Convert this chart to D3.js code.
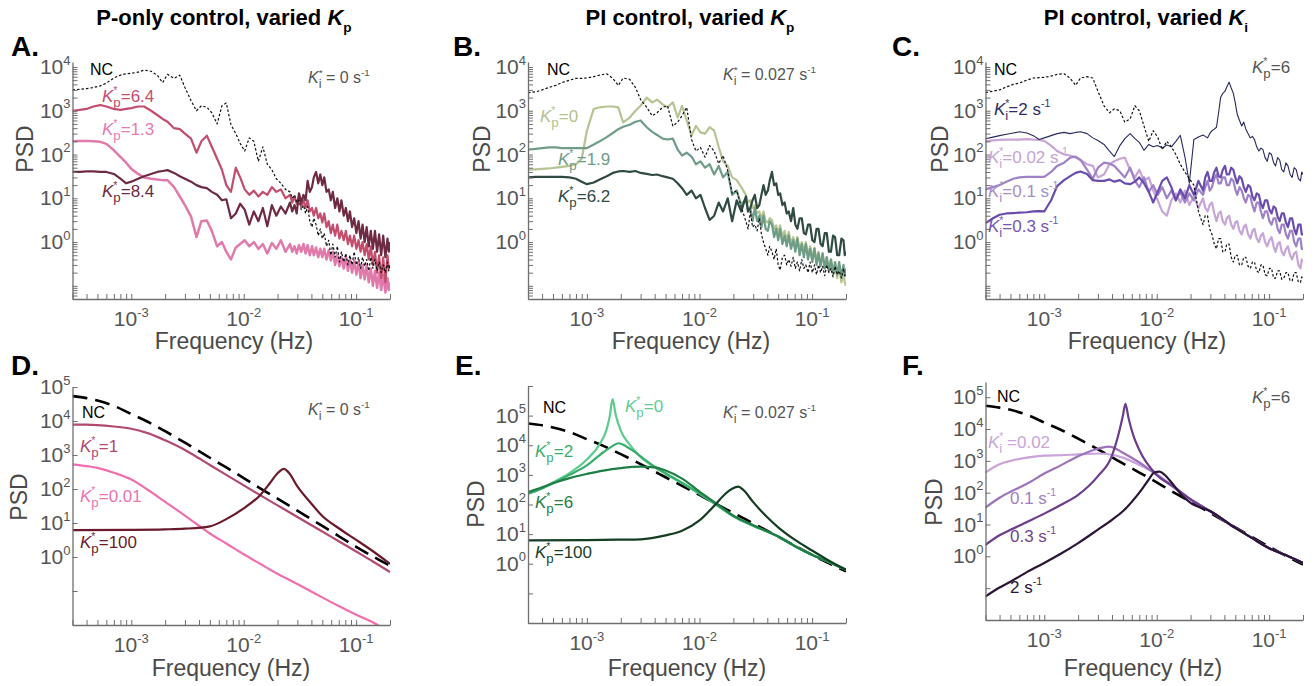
<!DOCTYPE html>
<html lang="en">
<head>
<meta charset="UTF-8" />
<title>PSD under P and PI control</title>
<script src="https://cdnjs.cloudflare.com/ajax/libs/d3/7.8.5/d3.min.js"></script>
<style>
  body { margin: 0; background: #fff; }
  svg { display: block; font-family: "Liberation Sans", Arial, Helvetica, sans-serif; }
</style>
</head>
<body>
<svg id="chart" width="1314" height="686"></svg>
<script>
// ---- data: top row (measured spectra), all on one frequency grid (Hz)
const freqTop = [
  3.0e-4, 3.5e-4, 4e-4, 4.6e-4, 5.3e-4, 6e-4, 7e-4, 8e-4, 9e-4, 1.0e-3,
  1.15e-3, 1.3e-3, 1.5e-3, 1.7e-3, 1.9e-3, 2.1e-3, 2.4e-3, 2.7e-3, 3.0e-3, 3.4e-3,
  3.8e-3, 4.2e-3, 4.7e-3, 5.2e-3, 5.8e-3, 6.4e-3, 7.0e-3, 7.7e-3, 8.5e-3, 9.3e-3,
  0.0102, 0.0112, 0.0123, 0.0135, 0.0148, 0.0162, 0.0178, 0.0195, 0.0214, 0.0235,
  // denser high-frequency part
  0.0258, 0.027, 0.0283, 0.0296, 0.031, 0.0325, 0.034, 0.0355, 0.037, 0.0387,
  0.0405, 0.042, 0.044, 0.046, 0.048, 0.050, 0.052, 0.0545, 0.057, 0.0595,
  0.062, 0.065, 0.068, 0.071, 0.074, 0.0775, 0.081, 0.0845, 0.088, 0.092,
  0.096, 0.1005, 0.105, 0.1095, 0.114, 0.119, 0.124, 0.1295, 0.135, 0.141,
  0.147, 0.1535, 0.16, 0.167, 0.174, 0.182, 0.19, 0.195, 0.2
];

// panel A: P-only control
const aNC = [
  3000, 3100, 3200, 3400, 3700, 4300, 5600, 6500, 7000, 7200,
  7600, 8500, 8000, 6500, 4400, 6800, 5500, 6500, 3400, 1700,
  1000, 1300, 1200, 900, 500, 1300, 1500, 480, 300, 180,
  120, 240, 200, 70, 150, 60, 45, 28, 22, 16,
  14, 10, 12, 8, 9, 5.5, 7, 4.5, 6.5, 3,
  2.2, 3.5, 2.5, 1.4, 2, 1.2, 1.6, 0.8, 1.1, 0.5,
  0.9, 0.45, 0.8, 0.35, 0.6, 0.35, 0.55, 0.3, 0.5, 0.3,
  0.6, 0.3, 0.45, 0.25, 0.45, 0.28, 0.4, 0.22, 0.45, 0.25,
  0.4, 0.22, 0.35, 0.2, 0.3, 0.2, 0.35, 0.22, 0.3
];
const aKp64 = [
  1000, 1050, 1100, 1250, 1350, 1250, 1100, 1050, 1100, 1150,
  1250, 1250, 1000, 800, 650, 560, 400, 380, 300, 230,
  110, 200, 270, 150, 80, 45, 20, 14, 50, 30,
  16, 12, 15, 11, 14, 12, 18, 14, 16, 10,
  12, 8, 11, 7.5, 11, 6.5, 9, 6, 9, 5,
  6, 4, 6, 3.5, 4.5, 2.8, 4.5, 2.2, 3, 1.6,
  2.5, 1.4, 2.5, 1.2, 1.8, 1.1, 1.8, 0.9, 1.4, 0.8,
  1.4, 0.7, 1.1, 0.6, 1.0, 0.5, 0.9, 0.4, 0.8, 0.3,
  0.6, 0.2, 0.5, 0.15, 0.45, 0.12, 0.5, 0.25, 0.3
];
const aKp13 = [
  200, 205, 205, 200, 195, 175, 125, 88, 65, 47,
  36, 30, 28, 27, 26, 26, 18, 11, 7, 3.8,
  1.3, 3, 3.1, 1.8, 0.8, 1.0, 0.6, 0.4, 0.75, 0.9,
  1.1, 0.8, 1.0, 0.7, 0.9, 0.55, 0.95, 0.7, 1.1, 0.6,
  0.9, 0.6, 0.8, 0.55, 0.85, 0.6, 0.9, 0.55, 0.85, 0.5,
  0.8, 0.5, 0.75, 0.45, 0.7, 0.45, 0.7, 0.4, 0.65, 0.38,
  0.6, 0.3, 0.5, 0.28, 0.45, 0.25, 0.45, 0.22, 0.4, 0.2,
  0.38, 0.18, 0.35, 0.15, 0.3, 0.14, 0.3, 0.12, 0.25, 0.1,
  0.22, 0.09, 0.2, 0.08, 0.18, 0.07, 0.15, 0.08, 0.12
];
const aKp84 = [
  40, 40, 41, 41, 40, 40, 36, 28, 22, 24,
  28, 32, 36, 40, 42, 44, 38, 32, 28, 24,
  20, 18, 17, 14, 12, 9, 9.5, 3.5, 4.5, 7.5,
  5.5, 2.5, 5, 3, 6, 2.3, 7, 4, 6.5, 4.5,
  8, 5, 7, 4.5, 13, 8, 12, 9, 25, 14,
  18, 30, 40, 22, 35, 20, 30, 14, 16, 9,
  14, 6, 10, 5, 9, 4, 6, 3, 5, 2.2,
  3.5, 1.6, 3, 1.2, 2.5, 1.0, 2.2, 0.8, 1.8, 0.7,
  1.8, 0.6, 1.5, 0.5, 1.4, 0.45, 1.2, 0.6, 1.0
];

// panel B: PI control, varied Kp
const bNC = [
  2600, 2700, 3000, 3400, 3800, 4400, 5000, 5500, 5500, 5600,
  6000, 6500, 7000, 5500, 3800, 5600, 5200, 3400, 1800, 1200,
  770, 900, 1200, 1300, 450, 550, 770, 1200, 220, 120,
  145, 87, 160, 120, 62, 95, 43, 13, 15, 6.3,
  3, 2, 5, 2.2, 2.5, 1.8, 3.5, 1.5, 1.0, 0.7,
  0.5, 0.8, 0.6, 0.4, 0.7, 0.3, 0.23, 0.45, 0.5, 0.3,
  0.4, 0.28, 0.45, 0.25, 0.35, 0.22, 0.4, 0.25, 0.3, 0.2,
  0.35, 0.2, 0.3, 0.18, 0.3, 0.2, 0.28, 0.17, 0.3, 0.2,
  0.25, 0.16, 0.28, 0.18, 0.22, 0.15, 0.25, 0.17, 0.2
];
const bKp0 = [
  45, 46, 47, 48, 50, 52, 55, 60, 80, 350,
  1100, 1200, 1250, 1250, 1200, 540, 700, 1000, 1300, 2000,
  1550, 1800, 1400, 1200, 1550, 700, 1300, 600, 270, 450,
  320, 300, 420, 350, 150, 70, 55, 30, 26, 18,
  12, 8, 9, 6, 7, 4.5, 5, 3.5, 5, 3,
  2.8, 3.5, 3.2, 2, 2.4, 1.6, 2.4, 1.3, 1.8, 1.1,
  1.7, 0.9, 1.3, 0.8, 1.3, 0.7, 1.0, 0.6, 1.0, 0.5,
  0.8, 0.45, 0.75, 0.35, 0.6, 0.3, 0.55, 0.25, 0.45, 0.22,
  0.4, 0.18, 0.3, 0.15, 0.28, 0.12, 0.2, 0.12, 0.1
];
const bKp19 = [
  130, 135, 140, 145, 145, 140, 140, 140, 140, 140,
  170, 200, 250, 310, 380, 430, 480, 560, 600, 420,
  330, 280, 230, 220, 230, 130, 95, 110, 90, 60,
  70, 50, 60, 35, 55, 30, 40, 12, 15, 7,
  10, 5, 6, 3, 6, 3, 4, 2.2, 4, 2,
  1.8, 3, 2.5, 1.3, 2, 1.1, 2, 0.9, 1.4, 0.8,
  1.4, 0.7, 1.1, 0.6, 1.2, 0.5, 0.9, 0.45, 0.9, 0.4,
  0.7, 0.35, 0.7, 0.3, 0.55, 0.28, 0.55, 0.25, 0.45, 0.22,
  0.4, 0.2, 0.35, 0.18, 0.35, 0.16, 0.3, 0.17, 0.25
];
const bKp62 = [
  30, 31, 31, 31, 31, 31, 30, 28, 24, 21,
  23, 27, 32, 38, 41, 42, 40, 42, 38, 36,
  34, 35, 32, 30, 28, 22, 17, 12, 15, 10,
  12, 6, 3.2, 4, 8, 5, 10, 3, 9, 5,
  11, 5, 6, 9, 12, 6, 7, 12, 20, 12,
  15, 25, 40, 20, 22, 12, 13, 7, 8, 4.5,
  5, 3, 6, 2.5, 2, 3.5, 3.5, 1.6, 1.5, 2.5,
  2.5, 1.1, 1.0, 2, 2, 0.9, 0.8, 1.6, 1.6, 0.6,
  0.6, 1.4, 1.3, 0.5, 0.5, 1.2, 1.1, 0.5, 0.6
];

// panel C: PI control, varied Ki
const cNC = [
  2600, 2800, 3000, 3500, 4000, 4300, 5000, 5600, 5700, 5800,
  6200, 6800, 7000, 5500, 3800, 5600, 6000, 5600, 2800, 1300,
  900, 1100, 1000, 550, 650, 1300, 1000, 450, 200, 350,
  250, 130, 200, 150, 100, 60, 40, 28, 20, 5,
  2.5, 4, 4, 2, 1.5, 0.9, 0.7, 1.2, 1.2, 0.6,
  0.6, 0.9, 0.9, 0.45, 0.35, 0.5, 0.5, 0.3, 0.3, 0.45,
  0.45, 0.28, 0.25, 0.35, 0.35, 0.22, 0.2, 0.3, 0.3, 0.18,
  0.17, 0.25, 0.25, 0.15, 0.15, 0.22, 0.22, 0.14, 0.15, 0.2,
  0.2, 0.13, 0.13, 0.2, 0.2, 0.12, 0.12, 0.16, 0.15
];
const cKi2 = [
  230, 250, 270, 290, 310, 330, 310, 270, 220, 240,
  270, 300, 320, 300, 320, 330, 300, 240, 210, 170,
  120, 90, 160, 230, 300, 230, 190, 125, 170, 150,
  160, 140, 165, 150, 200, 275, 90, 22, 220, 250,
  280, 260, 240, 300, 350, 380, 420, 900, 2000, 2500,
  2800, 3500, 4500, 3300, 2500, 1500, 830, 600, 450, 550,
  380, 300, 240, 260, 220, 150, 120, 140, 130, 85,
  70, 110, 100, 65, 55, 85, 75, 45, 40, 65,
  55, 35, 30, 50, 45, 28, 25, 40, 35
];
const cKi002 = [
  200, 210, 215, 220, 220, 220, 225, 220, 215, 205,
  160, 120, 100, 95, 85, 75, 60, 55, 30, 35,
  60, 70, 80, 85, 45, 30, 45, 25, 30, 15,
  9, 5, 4, 9, 13, 8, 15, 7, 11, 6,
  10, 6, 5, 7, 8, 4.5, 3, 4.5, 5, 3,
  2.5, 3.5, 4, 2.5, 2, 2.8, 3, 1.8, 1.5, 2.2,
  2.5, 1.5, 1.2, 1.8, 2, 1.2, 1.0, 1.4, 1.6, 1.0,
  0.8, 1.1, 1.3, 0.8, 0.6, 0.9, 1.0, 0.6, 0.5, 0.7,
  0.8, 0.5, 0.4, 0.55, 0.6, 0.3, 0.25, 0.4, 0.35
];
const cKi01 = [
  16, 18, 20, 24, 28, 30, 31, 31, 31, 31,
  40, 55, 65, 85, 90, 75, 45, 28, 50, 65,
  62, 55, 40, 30, 50, 25, 18, 30, 14, 20,
  12, 18, 10, 15, 9, 14, 8, 13, 9, 16,
  12, 18, 25, 15, 18, 28, 35, 22, 22, 30,
  30, 20, 20, 28, 25, 16, 12, 18, 15, 10,
  8, 12, 11, 7, 5, 8, 8, 5, 3.5, 5,
  5, 3, 2.5, 3.5, 3.5, 2, 1.6, 2.5, 2.5, 1.5,
  1.2, 1.8, 1.8, 1.0, 0.8, 1.2, 1.2, 0.7, 0.7
];
const cKi03 = [
  2.7, 3.5, 4.2, 4.5, 4.6, 4.7, 4.8, 5.0, 5.1, 5.0,
  9, 19, 26, 32, 38, 41, 36, 26, 25, 25,
  27, 24, 26, 22, 21, 24, 30, 22, 14, 8,
  14, 25, 30, 18, 9, 16, 10, 20, 12, 25,
  15, 30, 40, 25, 25, 40, 50, 32, 30, 45,
  55, 35, 35, 50, 45, 30, 22, 32, 28, 18,
  14, 20, 18, 11, 9, 13, 12, 7.5, 6, 9,
  9, 5.5, 4.5, 6.5, 6, 3.8, 3, 4.5, 4.5, 2.8,
  2.2, 3.5, 3.5, 2, 1.5, 2.5, 2.5, 1.5, 1.5
];

// ---- data: bottom row (model spectra), [frequency Hz, PSD]
const ncModel = [[3e-4, 54000], [4e-4, 47000], [5e-4, 40000], [7e-4, 28000], [1e-3, 16000],
  [1.4e-3, 9500], [2e-3, 5000], [3e-3, 2300], [4e-3, 1300], [5e-3, 830], [7e-3, 430],
  [0.01, 210], [0.014, 105], [0.02, 52], [0.03, 23], [0.05, 8.2], [0.07, 4.1], [0.1, 2.0],
  [0.14, 1.05], [0.2, 0.55]];

const dKp1 = [[3e-4, 7800], [4e-4, 7800], [5e-4, 7600], [7e-4, 6900], [1e-3, 5900], [1.4e-3, 4400],
  [2e-3, 2700], [3e-3, 1400], [4e-3, 800], [5e-3, 510], [7e-3, 260], [0.01, 128], [0.014, 66],
  [0.02, 33], [0.03, 15], [0.05, 5.6], [0.07, 2.9], [0.1, 1.45], [0.14, 0.75], [0.2, 0.36]];
const dKp001 = [[3e-4, 530], [4e-4, 470], [5e-4, 420], [7e-4, 300], [1e-3, 190], [1.4e-3, 95],
  [2e-3, 42], [3e-3, 16.5], [4e-3, 8.3], [5e-3, 4.9], [7e-3, 2.5], [0.01, 1.2], [0.014, 0.63],
  [0.02, 0.32], [0.03, 0.16], [0.05, 0.065], [0.07, 0.036], [0.1, 0.02], [0.14, 0.012], [0.2, 0.006]];
const dKp100 = [[3e-4, 6.2], [1e-3, 6.3], [2e-3, 6.5], [3e-3, 6.8], [5e-3, 8], [7e-3, 13], [0.01, 27],
  [0.014, 66], [0.017, 145], [0.02, 290], [0.0228, 390], [0.025, 310], [0.03, 120], [0.04, 37],
  [0.05, 16], [0.07, 7], [0.1, 3.2], [0.14, 1.5], [0.2, 0.63]];

const eKp0 = [[3e-4, 230], [4e-4, 355], [5e-4, 560], [7e-4, 1150], [1e-3, 3300], [1.3e-3, 11000],
  [1.5e-3, 35000], [1.6e-3, 100000], [1.69e-3, 360000], [1.8e-3, 110000], [2e-3, 31000],
  [2.4e-3, 10500], [3e-3, 4000], [4e-3, 1800], [5e-3, 1070], [7e-3, 520], [0.01, 230], [0.014, 100],
  [0.02, 40], [0.03, 19], [0.05, 8.3], [0.07, 4], [0.1, 2], [0.14, 1.15], [0.2, 0.63]];
const eKp2 = [[3e-4, 230], [4e-4, 350], [5e-4, 520], [7e-4, 1000], [1e-3, 2100], [1.4e-3, 5800],
  [1.7e-3, 9500], [1.9e-3, 11700], [2.2e-3, 9500], [2.6e-3, 6300], [3e-3, 4200], [4e-3, 1900],
  [5e-3, 1140], [7e-3, 540], [0.01, 235], [0.014, 100], [0.02, 40], [0.03, 19], [0.05, 8.3],
  [0.07, 4], [0.1, 2], [0.14, 1.15], [0.2, 0.63]];
const eKp6 = [[3e-4, 260], [4e-4, 380], [5e-4, 520], [7e-4, 780], [1e-3, 1080], [1.4e-3, 1400],
  [2e-3, 1700], [3e-3, 1900], [4e-3, 1800], [5e-3, 1400], [7e-3, 750], [0.01, 270], [0.014, 110],
  [0.02, 42], [0.03, 20], [0.05, 8.3], [0.07, 4], [0.1, 2], [0.14, 1.15], [0.2, 0.63]];
const eKp100 = [[3e-4, 6.2], [1e-3, 6.3], [2e-3, 6.5], [3e-3, 6.7], [5e-3, 9.1], [7e-3, 13],
  [0.01, 29], [0.014, 105], [0.017, 230], [0.0195, 340], [0.0221, 400], [0.0245, 310], [0.03, 120],
  [0.04, 37], [0.05, 17], [0.07, 6.5], [0.1, 2.8], [0.14, 1.3], [0.2, 0.63]];

const fKi002 = [[3e-4, 430], [4e-4, 780], [5e-4, 1000], [7e-4, 1260], [1e-3, 1450], [1.4e-3, 1500],
  [2e-3, 1600], [3e-3, 1700], [4e-3, 1550], [5e-3, 1260], [7e-3, 740], [0.01, 380], [0.014, 160],
  [0.02, 62], [0.03, 26], [0.05, 7.8], [0.07, 3.8], [0.1, 1.8], [0.14, 1.1], [0.2, 0.62]];
const fKi01 = [[3e-4, 34], [4e-4, 69], [5e-4, 107], [7e-4, 190], [1e-3, 400], [1.4e-3, 720],
  [2e-3, 1400], [3e-3, 2400], [3.7e-3, 2800], [4e-3, 2700], [5e-3, 1800], [7e-3, 890], [0.01, 360],
  [0.014, 150], [0.02, 62], [0.03, 26], [0.05, 7.8], [0.07, 3.8], [0.1, 1.8], [0.14, 1.1], [0.2, 0.62]];
const fKi03 = [[3e-4, 2.3], [4e-4, 4.6], [5e-4, 6.8], [7e-4, 12], [1e-3, 22], [1.4e-3, 41],
  [2e-3, 85], [3e-3, 330], [4e-3, 1450], [4.5e-3, 5500], [5e-3, 26000], [5.27e-3, 62000],
  [5.6e-3, 23000], [6.2e-3, 6200], [7e-3, 2200], [0.01, 360], [0.014, 160], [0.02, 62], [0.03, 26],
  [0.05, 7.8], [0.07, 3.8], [0.1, 1.8], [0.14, 1.1], [0.2, 0.62]];
const fKi2 = [[3e-4, 0.055], [4e-4, 0.105], [5e-4, 0.16], [7e-4, 0.32], [1e-3, 0.62], [1.4e-3, 1.2],
  [2e-3, 2.6], [3e-3, 6.9], [4e-3, 14], [5e-3, 26], [7e-3, 100], [0.0085, 260], [0.0095, 430],
  [0.0106, 460], [0.0118, 360], [0.014, 180], [0.017, 78], [0.02, 48], [0.03, 26], [0.05, 7.8],
  [0.07, 3.8], [0.1, 1.8], [0.14, 1.1], [0.2, 0.62]];

// ---- axis tick labels (powers of ten)
const xDomain = [3e-4, 0.2];
const xTickExp = [-3, -2, -1];
const topYExp = [0, 1, 2, 3, 4];
const botYExp = [0, 1, 2, 3, 4, 5];

const GREY = "#555555";
const AXIS = "#6f6f6f";
const svg = d3.select("#chart");

// text with italic / superscript / subscript pieces
function richText(g, x, y, parts, size, color, anchor, weight) {
  const t = g.append("text").attr("x", x).attr("y", y).attr("fill", color)
    .attr("font-size", size).attr("text-anchor", anchor || "start");
  if (weight) t.attr("font-weight", weight);
  let cur = 0;
  parts.forEach(p => {
    let off = 0, fs = size;
    if (p.k === "sup") { off = -0.45 * size; fs = 0.62 * size; }
    if (p.k === "sub") { off = 0.3 * size; fs = (p.fs || 0.78) * size; }
    const s = t.append("tspan").attr("font-size", fs).attr("dy", off - cur).text(p.t);
    if (p.it) s.attr("font-style", "italic");
    if (p.back) s.attr("dx", -0.24 * size);
    cur = off;
  });
  return t;
}
// K with star superscript and p / i subscript
const K = (sub, rest, sup) => {
  const a = [{ t: "K", it: 1 }, { t: "*", k: "sup" }, { t: sub, k: "sub", back: 1 }, { t: rest }];
  if (sup) a.push({ t: sup, k: "sup" });
  return a;
};
const pow = e => [{ t: "10" }, { t: String(e), k: "sup" }];

function logTicks(lo, hi, withMinor) {
  const out = [];
  for (let e = -4; e <= 6; e++) {
    for (let k = 1; k <= 9; k++) {
      if (!withMinor && k > 1) continue;
      const v = k * Math.pow(10, e);
      if (v >= lo * 0.9999 && v <= hi * 1.0001) out.push(v);
    }
  }
  return out;
}

const panels = [
  { key: "A", x0: 72.5, x1: 390, y0: 62, y1: 299, yDom: [0.05, 1.3e4], yExp: topYExp, minorY: true,
    letter: [11, 56], ylab: [25, 149], xlab: [234, 349],
    series: [
      { v: aKp13, c: "#e07aab", w: 2.5 },
      { v: aKp64, c: "#c24d6c", w: 2.2 },
      { v: aKp84, c: "#6e2a42", w: 2.2 },
      { v: aNC, c: "#111", w: 1.2, dash: "2.5,2" }],
    labels: [
      { x: 90, y: 75, p: [{ t: "NC" }], c: "#000", s: 16 },
      { x: 102, y: 102, p: K("p", "=6.4"), c: "#c24d6c" },
      { x: 102, y: 135, p: K("p", "=1.3"), c: "#e57cb0" },
      { x: 102, y: 197, p: K("p", "=8.4"), c: "#6e2a42" },
      { x: 308, y: 83, p: K("i", " = 0 s", "-1"), c: GREY, s: 16 }] },
  { key: "B", x0: 528, x1: 846, y0: 62, y1: 299, yDom: [0.05, 1.3e4], yExp: topYExp, minorY: true,
    letter: [453, 56], ylab: [482, 149], xlab: [691, 349],
    series: [
      { v: bKp0, c: "#b6c493", w: 2.2 },
      { v: bKp19, c: "#6e9c87", w: 2.2 },
      { v: bKp62, c: "#2f4a42", w: 2.2 },
      { v: bNC, c: "#111", w: 1.2, dash: "2.5,2" }],
    labels: [
      { x: 547, y: 75, p: [{ t: "NC" }], c: "#000", s: 16 },
      { x: 540, y: 122, p: K("p", "=0"), c: "#b3c28f" },
      { x: 558, y: 165, p: K("p", "=1.9"), c: "#6e9c87" },
      { x: 558, y: 202, p: K("p", "=6.2"), c: "#2f4a42" },
      { x: 723, y: 80, p: K("i", " = 0.027 s", "-1"), c: GREY, s: 16 }] },
  { key: "C", x0: 985.5, x1: 1303, y0: 62, y1: 299, yDom: [0.05, 1.3e4], yExp: topYExp, minorY: true,
    letter: [892, 56], ylab: [940, 149], xlab: [1147, 349],
    series: [
      { v: cKi002, c: "#c7a5d7", w: 2.2 },
      { v: cKi01, c: "#9f82c6", w: 2.2 },
      { v: cKi03, c: "#6a4cad", w: 2.2 },
      { v: cKi2, c: "#27285e", w: 1.1 },
      { v: cNC, c: "#111", w: 1.2, dash: "2.5,2" }],
    labels: [
      { x: 994, y: 75, p: [{ t: "NC" }], c: "#000", s: 16 },
      { x: 994, y: 115, p: K("i", "=2 s", "-1"), c: "#2e2e66" },
      { x: 988, y: 163, p: K("i", "=0.02 s", "-1"), c: "#c6a4d6" },
      { x: 988, y: 197, p: K("i", "=0.1 s", "-1"), c: "#a58fc9" },
      { x: 988, y: 232, p: K("i", "=0.3 s", "-1"), c: "#7556b5" },
      { x: 1252, y: 73, p: K("p", "=6"), c: GREY, s: 17 }] },
  { key: "D", x0: 72.5, x1: 390, y0: 387, y1: 625, yDom: [0.01, 1e5], yExp: botYExp, minorY: false, smooth: true,
    letter: [11, 375], ylab: [19, 497], xlab: [231, 676],
    series: [
      { v: ncModel, c: "#000", w: 2.6, dash: "15,8" },
      { v: dKp001, c: "#ef6fae", w: 2.2 },
      { v: dKp1, c: "#b2496e", w: 2.2 },
      { v: dKp100, c: "#6a1a2a", w: 2.2 }],
    labels: [
      { x: 82, y: 418, p: [{ t: "NC" }], c: "#000", s: 16 },
      { x: 80, y: 452, p: K("p", "=1"), c: "#b3496f" },
      { x: 80, y: 502, p: K("p", "=0.01"), c: "#ee72b0" },
      { x: 80, y: 548, p: K("p", "=100"), c: "#6a1c2c" },
      { x: 308, y: 415, p: K("i", " = 0 s", "-1"), c: GREY, s: 16 }] },
  { key: "E", x0: 528, x1: 846, y0: 386, y1: 623, yDom: [0.01, 1e6], yExp: botYExp, minorY: false, smooth: true,
    letter: [455, 375], ylab: [476, 504], xlab: [687, 676],
    series: [
      { v: ncModel, c: "#000", w: 2.6, dash: "15,8" },
      { v: eKp0, c: "#5ccc8e", w: 2.2 },
      { v: eKp2, c: "#38ad6c", w: 2.2 },
      { v: eKp6, c: "#1f7d46", w: 2.2 },
      { v: eKp100, c: "#143d22", w: 2.2 }],
    labels: [
      { x: 543, y: 413, p: [{ t: "NC" }], c: "#000", s: 16 },
      { x: 625, y: 412, p: K("p", "=0"), c: "#5fcd92" },
      { x: 535, y: 457, p: K("p", "=2"), c: "#3aae6e" },
      { x: 535, y: 508, p: K("p", "=6"), c: "#1f7d46" },
      { x: 535, y: 558, p: K("p", "=100"), c: "#173f26" },
      { x: 723, y: 418, p: K("i", " = 0.027 s", "-1"), c: GREY, s: 16 }] },
  { key: "F", x0: 985.5, x1: 1303, y0: 382, y1: 620, yDom: [0.01, 3e5], yExp: botYExp, minorY: false, smooth: true,
    letter: [902, 375], ylab: [934, 502], xlab: [1143, 676],
    series: [
      { v: ncModel, c: "#000", w: 2.6, dash: "15,8" },
      { v: fKi002, c: "#c9a3d9", w: 2.2 },
      { v: fKi01, c: "#9c72ba", w: 2.2 },
      { v: fKi03, c: "#6b3d8c", w: 2.2 },
      { v: fKi2, c: "#2b1537", w: 2.2 }],
    labels: [
      { x: 997, y: 402, p: [{ t: "NC" }], c: "#000", s: 16 },
      { x: 988, y: 448, p: [{ t: "K", it: 1 }, { t: "*", k: "sup" }, { t: "i", k: "sub", back: 1 }, { t: " =0.02" }], c: "#c9a5da" },
      { x: 1010, y: 504, p: [{ t: "0.1 s" }, { t: "-1", k: "sup" }], c: "#a47dc2" },
      { x: 1010, y: 542, p: [{ t: "0.3 s" }, { t: "-1", k: "sup" }], c: "#74448f" },
      { x: 1010, y: 593, p: [{ t: "2 s" }, { t: "-1", k: "sup" }], c: "#2c1738" },
      { x: 1252, y: 403, p: K("p", "=6"), c: GREY, s: 17 }] }
];

panels.forEach(p => {
  const x = d3.scaleLog().domain(xDomain).range([p.x0, p.x1]);
  const y = d3.scaleLog().domain(p.yDom).range([p.y1, p.y0]);
  const g = svg.append("g");

  g.append("clipPath").attr("id", "clip" + p.key).append("rect")
    .attr("x", p.x0).attr("y", p.y0).attr("width", p.x1 - p.x0).attr("height", p.y1 - p.y0);

  const line = d3.line().x(d => x(d[0])).y(d => y(d[1]))
    .curve(p.smooth ? d3.curveMonotoneX : d3.curveLinear);
  const lines = g.append("g").attr("clip-path", `url(#clip${p.key})`);
  p.series.forEach(s => {
    const data = typeof s.v[0] === "number" ? freqTop.map((f, i) => [f, s.v[i]]) : s.v;
    lines.append("path").datum(data).attr("d", line)
      .attr("fill", "none").attr("stroke", s.c).attr("stroke-width", s.w)
      .attr("stroke-dasharray", s.dash || null).attr("stroke-linejoin", "round");
  });

  // axes: ticks point inward, no box
  const xa = g.append("g").attr("transform", `translate(0,${p.y1})`)
    .call(d3.axisBottom(x).tickValues(logTicks(xDomain[0], xDomain[1], true))
      .tickSize(-5).tickSizeOuter(0).tickFormat(() => ""));
  const ya = g.append("g").attr("transform", `translate(${p.x0},0)`)
    .call(d3.axisLeft(y).tickValues(logTicks(p.yDom[0], p.yDom[1], p.minorY))
      .tickSize(-5).tickSizeOuter(0).tickFormat(() => ""));
  [xa, ya].forEach(a => {
    a.select(".domain").attr("stroke", AXIS).attr("stroke-width", 1.3);
    a.selectAll(".tick line").attr("stroke", AXIS).attr("stroke-width", 1);
  });

  xTickExp.forEach(e => richText(g, x(Math.pow(10, e)), p.y1 + 27, pow(e), 21, GREY, "middle"));
  p.yExp.forEach(e => richText(g, p.x0 - 2, y(Math.pow(10, e)) + 7, pow(e), 21, GREY, "end"));

  g.append("text").attr("transform", `translate(${p.ylab[0]},${p.ylab[1]}) rotate(-90)`)
    .attr("text-anchor", "middle").attr("dy", "0.35em").attr("font-size", 23)
    .attr("fill", "#4a4a4a").text("PSD");
  g.append("text").attr("x", p.xlab[0]).attr("y", p.xlab[1]).attr("text-anchor", "middle")
    .attr("font-size", 23).attr("fill", "#4a4a4a").text("Frequency (Hz)");

  g.append("text").attr("x", p.letter[0]).attr("y", p.letter[1]).attr("font-size", 28)
    .attr("font-weight", "bold").attr("fill", "#000").text(p.key + ".");

  p.labels.forEach(l => richText(g, l.x, l.y, l.p, l.s || 17, l.c, "start"));
});

// column titles
const titles = [
  { x: 224, text: "P-only control, varied ", sub: "p" },
  { x: 690, text: "PI control, varied ", sub: "p" },
  { x: 1146, text: "PI control, varied ", sub: "i" }
];
titles.forEach(t => richText(svg, t.x, 25,
  [{ t: t.text }, { t: "K", it: 1 }, { t: t.sub, k: "sub", fs: 0.62 }], 22, "#000", "middle", "bold"));
</script>
</body>
</html>
